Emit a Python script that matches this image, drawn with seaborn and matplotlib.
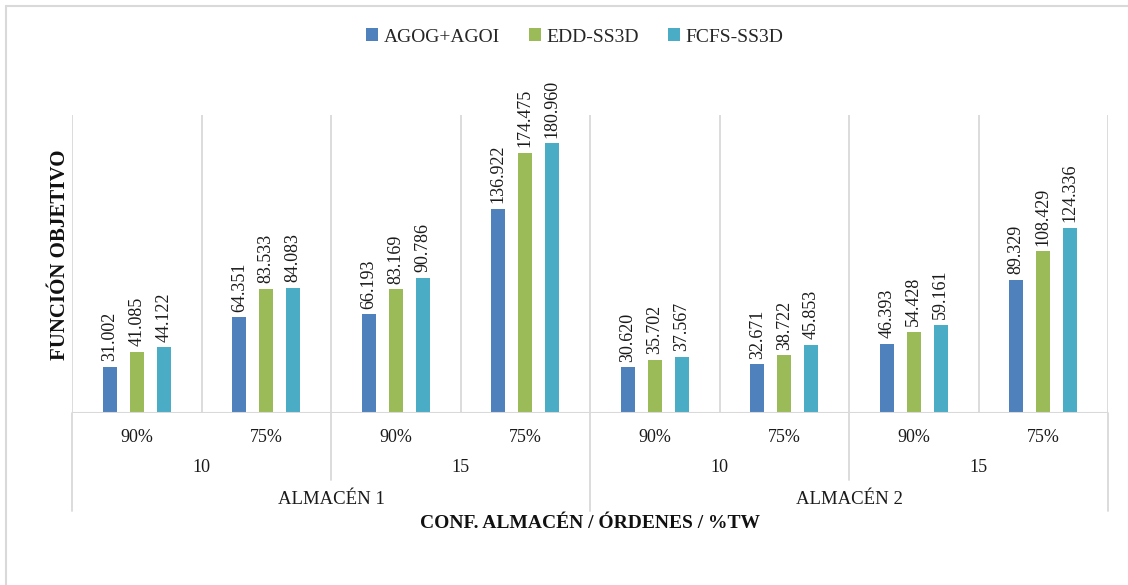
import matplotlib
matplotlib.use("Agg")
import matplotlib.pyplot as plt
import matplotlib.transforms as mtransforms
from matplotlib.patches import Rectangle
import seaborn as sns
import pandas as pd

# --- data ---------------------------------------------------------------
series = ["AGOG+AGOI", "EDD-SS3D", "FCFS-SS3D"]
almacen = ["ALMACÉN 1", "ALMACÉN 2"]
ordenes = ["10", "15"]
tw = ["90%", "75%"]

agog = [31.002, 64.351, 66.193, 136.922, 30.620, 32.671, 46.393, 89.329]
edd = [41.085, 83.533, 83.169, 174.475, 35.702, 38.722, 54.428, 108.429]
fcfs = [44.122, 84.083, 90.786, 180.960, 37.567, 45.853, 59.161, 124.336]

colors = ["#4F81BD", "#9BBB59", "#4BACC6"]
grid_color = "#D9D9D9"
text_color = "#1A1A1A"

# --- build long table ---------------------------------------------------
groups = []
for a in almacen:
    for o in ordenes:
        for t in tw:
            groups.append(f"{a}|{o}|{t}")

rows = []
for name, vals in zip(series, [agog, edd, fcfs]):
    for g, v in zip(groups, vals):
        rows.append({"grupo": g, "serie": name, "valor": v})
df = pd.DataFrame(rows)

sns.set_theme(style="white")
plt.rcParams["font.family"] = ["Liberation Serif", "DejaVu Serif"]

W, H = 1128, 585
fig = plt.figure(figsize=(W / 100, H / 100), dpi=100)
fig.patch.set_facecolor("white")

x0, x1, ytop, ybase = 72, 1108, 115, 413
ax = fig.add_axes([x0 / W, 1 - ybase / H, (x1 - x0) / W, (ybase - ytop) / H])

sns.barplot(data=df, x="grupo", y="valor", hue="serie", order=groups,
            hue_order=series, palette=colors, saturation=1, width=0.625,
            gap=0.48, linewidth=0, errorbar=None, ax=ax, legend=True)

for cont in ax.containers:
    ax.bar_label(cont, fmt="%.3f", rotation=90, padding=4, fontsize=13,
                 color=text_color)

ax.set_xlim(-0.5, len(groups) - 0.5)
ax.set_ylim(0, 200)
for s in ax.spines.values():
    s.set_visible(False)
ax.set_xticks([])
ax.set_yticks([])
ax.set_xlabel("")
ax.set_ylabel("")

# separators inside the plot area and the category baseline
ax.vlines([i - 0.5 for i in range(len(groups) + 1)], 0, 200,
          color=grid_color, lw=1.3, zorder=0)
ax.axhline(0, color=grid_color, lw=1.5, zorder=3)

# multi-level category axis
trans = mtransforms.blended_transform_factory(ax.transData, ax.transAxes)
axh = ybase - ytop
y_l1 = -(437 - ybase) / axh
y_l2 = -(468 - ybase) / axh
y_l3 = -(499 - ybase) / axh
y_sep2 = -(480 - ybase) / axh
y_sep3 = -(511 - ybase) / axh

for i, g in enumerate(groups):
    ax.text(i, y_l1, g.split("|")[2], transform=trans, ha="center",
            va="center", fontsize=13, color=text_color)

for k in range(4):
    ax.text(2 * k + 0.5, y_l2, ordenes[k % 2], transform=trans, ha="center",
            va="center", fontsize=13, color=text_color)

for k in range(2):
    ax.text(4 * k + 1.5, y_l3, almacen[k], transform=trans, ha="center",
            va="center", fontsize=13.5, color=text_color)

for xb in [1.5, 5.5]:
    ax.plot([xb, xb], [0, y_sep2], transform=trans, color=grid_color,
            lw=1.3, clip_on=False)
for xb in [-0.5, 3.5, 7.5]:
    ax.plot([xb, xb], [0, y_sep3], transform=trans, color=grid_color,
            lw=1.3, clip_on=False)

# axis titles
fig.text(60 / W, 1 - 255 / H, "FUNCIÓN OBJETIVO", rotation=90, ha="center",
         va="center", fontsize=15, fontweight="bold", color="#111111")
fig.text(590 / W, 1 - 523 / H, "CONF. ALMACÉN / ÓRDENES / %TW", ha="center",
         va="center", fontsize=14, fontweight="bold", color="#111111")

# legend on top
handles, labels = ax.get_legend_handles_labels()
ax.get_legend().remove()
fig.legend(handles, labels, loc="center", bbox_to_anchor=(575 / W, 1 - 37 / H),
           ncol=3, frameon=False, fontsize=14, handlelength=0.6,
           handleheight=0.6, handletextpad=0.3, columnspacing=1.5)

# chart area border
fig.patches.append(Rectangle((5.5 / W, -0.05), 1.2, 1 - 6 / H + 0.05,
                             transform=fig.transFigure, fill=False,
                             edgecolor=grid_color, lw=1.5))

fig.savefig("out.png", dpi=100, facecolor="white")
